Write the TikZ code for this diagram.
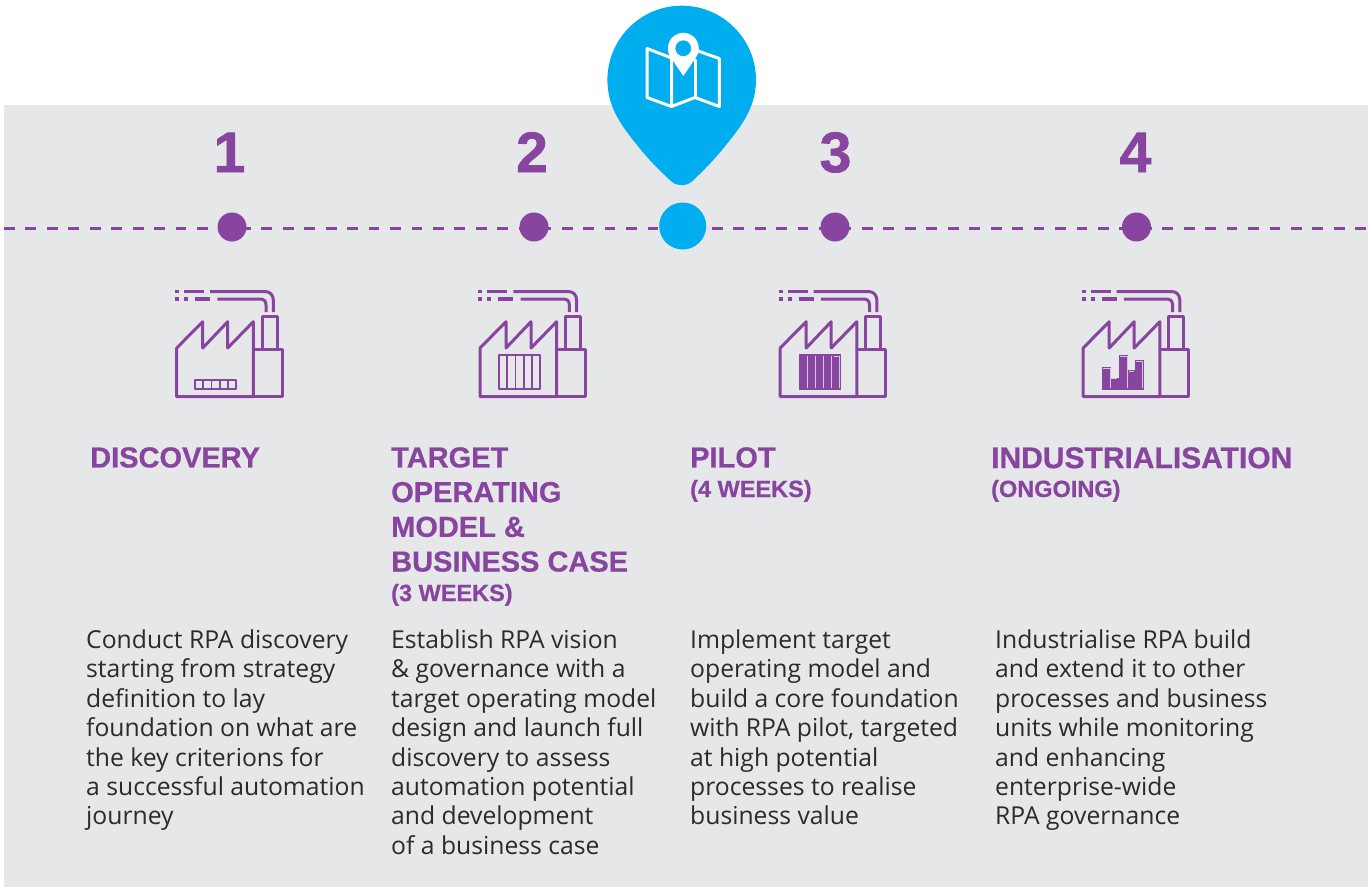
\documentclass[tikz,border=0pt]{standalone}
\usepackage{fontspec}
\setmainfont{Open Sans}
\newfontfamily\headfont[FakeBold=0.6,BoldFont={Liberation Sans Bold}]{Liberation Sans Bold}
\newfontfamily\numfont[FakeBold=1.2]{Liberation Sans Bold}
\definecolor{purp}{HTML}{87459F}
\definecolor{pale}{HTML}{E6E7E9}
\definecolor{sky}{HTML}{00AEEF}
\definecolor{ink}{HTML}{2B2B2D}
\tikzset{
  iconline/.style={draw=purp,line width=3pt,line join=round,line cap=round},
  thinline/.style={draw=purp,line width=2.2pt,line join=round},
  lightline/.style={draw=pale!80!purp,line width=.9pt},
  stopdot/.style={circle,fill=purp,minimum size=29pt,inner sep=0pt},
  numtext/.style={font=\fontsize{57}{57}\numfont,text=purp,inner sep=0pt,anchor=base},
  headtext/.style={font=\fontsize{29}{34.7}\headfont,text=purp,inner sep=0pt,anchor=north west,align=left},
  subtext/.style={font=\fontsize{23.5}{24}\headfont,text=purp,inner sep=0pt,anchor=base west},
  bodytext/.style={font=\fontsize{24.7}{29.4}\selectfont,text=ink,inner sep=0pt,anchor=north west,align=left},
  mapline/.style={draw=white,line width=3pt,line join=round,line cap=round},
}
\newcommand{\factory}[1]{%
 \begin{scope}[xshift=#1pt]
  \draw[iconline] (176.7,348) -- (202.7,321.7) -- (202.7,348) -- (227.7,321.7) -- (227.7,348) -- (253.3,321.7) -- (253.3,396.7) -- (176.7,396.7) -- cycle;
  \draw[iconline] (253.3,349) -- (282.3,349) -- (282.3,396.7) -- (253.3,396.7);
  \draw[iconline] (262.3,349) -- (262.3,316) -- (277.3,316) -- (277.3,349);
  \draw[iconline,line cap=butt] (210,291.5) -- (265,291.5) .. controls (270,291.5) and (273.3,295) .. (273.3,300) -- (273.3,312);
  \draw[iconline,line cap=butt] (217.3,299) -- (260,299) .. controls (264,299) and (266,301) .. (266,305) -- (266,312);
  \draw[iconline,line cap=butt,line width=3.4pt] (175,291.7) -- (179,291.7) (184,291.7) -- (204,291.7) (175,299) -- (179,299) (184,299) -- (188,299) (195,299) -- (210,299);
 \end{scope}}
\begin{document}
\begin{tikzpicture}[x=1pt,y=-1pt]
\useasboundingbox (0,0) rectangle (1368,887);
\fill[white] (0,0) rectangle (1368,887);
\fill[pale] (4,105) rectangle (1368,887);
\coordinate (lineL) at (4,228.3);
\coordinate (lineR) at (1368,228.3);
\draw[purp,line width=2.8pt,dash pattern=on 10.8pt off 10.65pt] (lineL) -- (lineR);
\node[stopdot] (s1) at (232,227) {};
\node[stopdot] (s2) at (534,227) {};
\node[stopdot] (s3) at (835,227) {};
\node[stopdot] (s4) at (1136.5,227) {};
\node[circle,fill=sky,minimum size=47pt,inner sep=0pt] (here) at (682.7,226) {};
% pin
\fill[sky] (607.4,80) arc[start angle=180,end angle=360,radius=74.3]
  .. controls (756,110) and (738,130) .. (722,150)
  .. controls (712,162) and (703,171) .. (692,181.5)
  .. controls (686,186.5) and (677,186.5) .. (671.5,181.5)
  .. controls (660,171) and (651,162) .. (641,150)
  .. controls (625,130) and (607.4,110) .. (607.4,80) -- cycle;
\draw[mapline] (647,48.5) -- (671.5,58) -- (671.5,106.5) -- (647,97.5) -- cycle;
\draw[mapline] (671.5,106.5) -- (695,97.5) -- (719.3,106.5) -- (719.3,58.5) -- (698,51);
\draw[mapline] (695,97.5) -- (695,60);
\fill[white,even odd rule] (683.3,76) -- (670.5,57) arc[start angle=146,end angle=394,radius=15.5] -- cycle (683.3,48.3) circle[radius=8];
% numbers
\node[numtext] (n1) at (229.5,172) {1};
\node[numtext] (n2) at (532,172) {2};
\node[numtext] (n3) at (835.5,172) {3};
\node[numtext] (n4) at (1135.5,172) {4};
% factories
\factory{0}\factory{303.3}\factory{603.5}\factory{906.5}
% panels
\draw[thinline] (195,380) rectangle (236,389);
\foreach \x in {203.3,211.5,219.7,228} \draw[purp,line width=1.8pt] (\x,380) -- (\x,389);
\draw[thinline] (499,355) rectangle (540,389);
\foreach \x in {507.3,515.5,523.7,532} \draw[purp,line width=1.8pt] (\x,355) -- (\x,389);
\fill[purp] (799,354) rectangle (841,390);
\foreach \x in {807,815.2,823.4,831.6} \draw[lightline] (\x,356) -- (\x,388);
\draw[lightline] (834,356) -- (839,356) -- (839,388);
% bars
\fill[purp] (1101.7,366.7) rectangle (1111,390);
\fill[purp] (1111,378) rectangle (1118.5,390);
\fill[purp] (1118.5,355) rectangle (1128,390);
\fill[purp] (1128,370) rectangle (1134.5,390);
\fill[purp] (1134.5,360) rectangle (1143.5,390);
\draw[lightline] (1103,368) -- (1110,368) -- (1110,388) (1111,378.5) -- (1117,378.5) (1120,356.5) -- (1127,356.5) -- (1127,388) (1129,371) -- (1134,371) (1136,361) -- (1142,361) -- (1142,388);
% headings
\node[headtext] (h1) at (90,447) {DISCOVERY};
\node[headtext] (h2) at (391,447) {TARGET\\OPERATING\\MODEL \&\\BUSINESS CASE};
\node[subtext] (h2b) at (391,601) {(3 WEEKS)};
\node[headtext] (h3) at (690,447) {PILOT};
\node[subtext] (h3b) at (690,497) {(4 WEEKS)};
\node[headtext,font=\fontsize{30}{34.7}\headfont] (h4) at (991,447) {INDUSTRIALISATION};
\node[subtext] (h4b) at (991,497) {(ONGOING)};
% bodies
\node[bodytext] (b1) at (86,629.5) {Conduct RPA discovery\\starting from strategy\\definition to lay\\foundation on what are\\the key criterions for\\a successful automation\\journey};
\node[bodytext] (b2) at (391,629.5) {Establish RPA vision\\\& governance with a\\target operating model\\design and launch full\\discovery to assess\\automation potential\\and development\\of a business case};
\node[bodytext] (b3) at (690,629.5) {Implement target\\operating model and\\build a core foundation\\with RPA pilot, targeted\\at high potential\\processes to realise\\business value};
\node[bodytext] (b4) at (995,629.5) {Industrialise RPA build\\and extend it to other\\processes and business\\units while monitoring\\and enhancing\\enterprise-wide\\RPA governance};
\end{tikzpicture}
\end{document}
